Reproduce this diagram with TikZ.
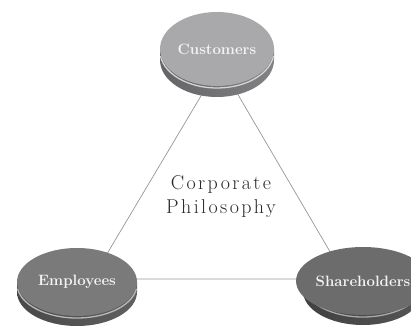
\documentclass[tikz,border=0pt]{standalone}
\usepackage{fontspec}
\usetikzlibrary{shapes.geometric}
\newfontfamily\titlefont[LetterSpace=12]{Latin Modern Roman}
\definecolor{cface}{RGB}{169,169,171}
\definecolor{cside1}{RGB}{100,100,102}
\definecolor{cside2}{RGB}{158,158,160}
\definecolor{cside3}{RGB}{130,130,132}
\definecolor{crim}{RGB}{212,212,214}
\definecolor{eface}{RGB}{122,122,122}
\definecolor{eside1}{RGB}{72,72,72}
\definecolor{eside2}{RGB}{122,122,122}
\definecolor{eside3}{RGB}{96,96,96}
\definecolor{erim}{RGB}{185,185,185}
\definecolor{sface}{RGB}{108,108,108}
\definecolor{sside1}{RGB}{64,64,64}
\definecolor{sside2}{RGB}{108,108,108}
\definecolor{sside3}{RGB}{86,86,86}
\definecolor{srim}{RGB}{170,170,170}
\definecolor{linkc}{RGB}{150,150,150}
\definecolor{labc}{RGB}{244,244,244}
\definecolor{titc}{RGB}{40,40,40}
\begin{document}
\begin{tikzpicture}[x=1pt,y=1pt,
  link/.style={draw=linkc, line width=0.7pt},
  face/.style={ellipse, inner sep=0pt, font=\fontsize{15}{17}\selectfont\bfseries, text=labc},
  rim/.style={line width=1.3pt}]
\useasboundingbox (0,0) rectangle (411,329);
\clip (0,0) rectangle (411,329);
% triangle vertices
\coordinate (vC) at (220,265);
\coordinate (vE) at (92,50);
\coordinate (vS) at (346,50);
\draw[link] (vC) -- (vE) -- (vS) -- cycle;
% Customers disc
\coordinate (cc) at (217,280);
\shade[left color=cside1, middle color=cside2, right color=cside3]
  ([shift={(-57,0)}]cc) -- ++(0,-11) arc[start angle=180,end angle=360,x radius=57,y radius=37] -- ++(0,11) -- cycle;
\draw[rim, crim] ([shift={(0,-2)}]cc) ++(188:57 and 37) arc[start angle=188,end angle=352,x radius=57,y radius=37];
\node[face, fill=cface, minimum width=114pt, minimum height=74pt] (cust) at (cc) {Customers};
% Employees disc
\coordinate (ec) at (77,47);
\shade[left color=eside1, middle color=eside2, right color=eside3]
  ([shift={(-60,0)}]ec) -- ++(0,-10) arc[start angle=180,end angle=360,x radius=60,y radius=34] -- ++(0,10) -- cycle;
\draw[rim, erim] ([shift={(0,-2)}]ec) ++(188:60 and 34) arc[start angle=188,end angle=352,x radius=60,y radius=34];
\node[face, fill=eface, minimum width=120pt, minimum height=68pt] (empl) at (ec) {Employees};
% Shareholders disc
\coordinate (sc) at (363,48);
\shade[left color=sside1, middle color=sside2, right color=sside3]
  ([shift={(-60,0)}]sc) -- ++(0,-10) arc[start angle=180,end angle=360,x radius=60,y radius=34] -- ++(0,10) -- cycle;
\draw[rim, srim] ([shift={(0,-2)}]sc) ++(188:60 and 34) arc[start angle=188,end angle=352,x radius=60,y radius=34];
\node[face, fill=sface, minimum width=120pt, minimum height=68pt] (share) at (sc) {Shareholders};
% centre title
\node[align=center, text=titc, font=\titlefont\fontsize{20}{24}\selectfont] (phil) at (221,132) {Corporate\\Philosophy};
\end{tikzpicture}
\end{document}
